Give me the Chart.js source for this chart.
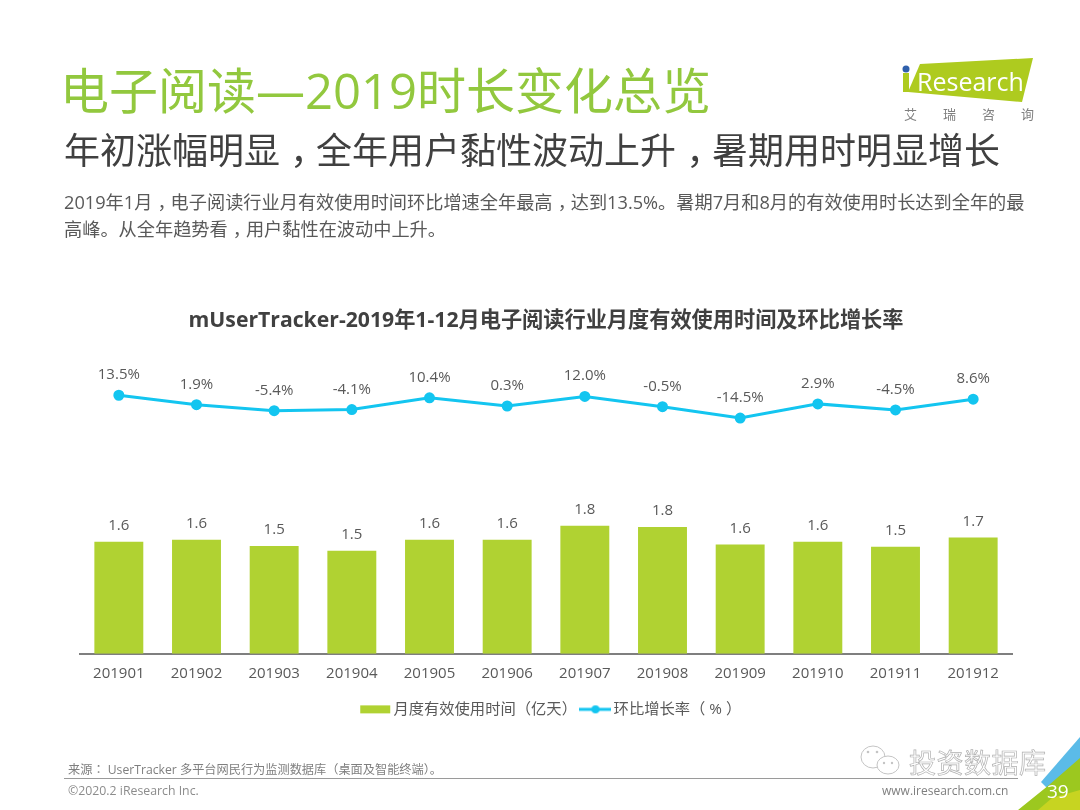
<!DOCTYPE html>
<html>
<head>
<meta charset="utf-8">
<script src="https://cdn.jsdelivr.net/npm/chart.js@4"></script>
<style>
    html, body { margin: 0; padding: 0; background: #fff; }
    body { width: 1080px; height: 810px; position: relative; overflow: hidden; font-family: "Open Sans", "Noto Sans CJK SC", sans-serif; }
    #chart { position: absolute; left: 0; top: 0; }
    .txt { position: absolute; white-space: nowrap; }
    .comma { position: relative; left: 0.28em; }
    .tc { font-family: "Noto Sans CJK TC", sans-serif; }
    #head { left: 60px; top: 55px; font-size: 49px; line-height: 70px; color: #92c83e; }
    #sub { left: 64px; top: 125px; font-size: 36px; line-height: 52px; color: #404040; }
    #desc { left: 64px; top: 189px; font-size: 18.2px; line-height: 27px; color: #595959; }
    #source { left: 68px; top: 761px; font-size: 12.2px; line-height: 16px; color: #7f7f7f; }
    #copy { left: 68px; top: 783px; font-size: 12.3px; line-height: 16px; color: #8c8c8c; }
    #site { left: 882px; top: 783px; font-size: 12px; line-height: 16px; color: #7f7f7f; }
    #page { left: 1047px; top: 779px; font-size: 19px; line-height: 24px; color: #fff; }
    #wm { left: 909px; top: 745px; font-size: 27px; line-height: 36px; color: #fff; -webkit-text-stroke: 0.7px #b0b0b0; letter-spacing: 0.5px; }
    #rule { position: absolute; left: 64px; top: 778px; width: 954px; height: 1px; background: #9a9a9a; }
    svg { position: absolute; left: 0; top: 0; }
</style>
</head>
<body>
<canvas id="chart" width="1080" height="810"></canvas>

<svg width="1080" height="810">
    <polygon points="1080,737 1080,760 1049,790 1041,782" fill="#5bbbe8"/>
    <polygon points="1080,758 1080,810 1018,810 1049,785" fill="#9cc81f"/>
    <polygon points="1080,790 1080,810 1038,810 1052,798" fill="#c7d421"/>
    <polygon points="920,64 1033,58 1022,102 908,92" fill="#aecb1f"/>
    <rect x="903" y="73" width="6" height="19" fill="#aecb1f"/>
    <circle cx="906" cy="69" r="3.5" fill="#2f60ac"/>
    <text x="917" y="91" font-size="25" fill="#fff" font-family="Open Sans">Research</text>
    <g fill="#fff" stroke="#c4c4c4" stroke-width="1">
        <ellipse cx="873" cy="757" rx="12" ry="11"/>
        <ellipse cx="888" cy="765" rx="11" ry="9"/>
    </g>
    <g fill="#c4c4c4">
        <circle cx="868" cy="752" r="1.3"/>
        <circle cx="877" cy="752" r="1.3"/>
        <circle cx="884" cy="763" r="1.2"/>
        <circle cx="892" cy="763" r="1.2"/>
    </g>
</svg>

<div id="head" class="txt">电子阅读—2019时长变化总览</div>
<div id="sub" class="txt">年初涨幅明显<span class="comma">，</span>全年用户黏性波动上升<span class="comma">，</span>暑期用时明显增长</div>
<div id="desc" class="txt">2019年1月<span class="comma">，</span>电子阅读行业月有效使用时间环比增速全年最高<span class="comma">，</span>达到13.5%。暑期7月和8月的有效使用时长达到全年的最<br>高峰。从全年趋势看<span class="comma">，</span>用户黏性在波动中上升。</div>
<div class="txt" style="left:904px;top:105px;font-size:13px;line-height:18px;color:#7f7f7f;letter-spacing:26px;">艾瑞咨询</div>
<div id="source" class="txt">来源<span class="tc">：</span> UserTracker 多平台网民行为监测数据库<span class="tc">（</span>桌面及智能终端<span class="tc">）</span>。</div>
<div id="rule"></div>
<div id="copy" class="txt">©2020.2 iResearch Inc.</div>
<div id="site" class="txt">www.iresearch.com.cn</div>
<div id="wm" class="txt">投资数据库</div>
<div id="page" class="txt">39</div>

<script>
const months = ['201901', '201902', '201903', '201904', '201905', '201906', '201907', '201908', '201909', '201910', '201911', '201912'];
const usageTime = [1.60, 1.63, 1.54, 1.47, 1.63, 1.63, 1.83, 1.81, 1.56, 1.60, 1.53, 1.66];
const growthRate = [13.5, 1.9, -5.4, -4.1, 10.4, 0.3, 12.0, -0.5, -14.5, 2.9, -4.5, 8.6];

const green = '#b0d232';
const blue = '#13c5f0';
const fontName = '"Open Sans", "Noto Sans CJK SC", sans-serif';
const legendFont = '"Open Sans", "Noto Sans CJK TC", sans-serif';

function legendIcon(drawIcon) {
    const icon = document.createElement('canvas');
    icon.width = 32;
    icon.height = 10;
    drawIcon(icon.getContext('2d'));
    return icon;
}

const barIcon = legendIcon(function (c) {
    c.fillStyle = green;
    c.fillRect(1, 1, 30, 8);
});

const lineIcon = legendIcon(function (c) {
    c.strokeStyle = blue;
    c.lineWidth = 3;
    c.beginPath();
    c.moveTo(0, 5);
    c.lineTo(32, 5);
    c.stroke();
    c.fillStyle = blue;
    c.beginPath();
    c.arc(16, 5, 4, 0, Math.PI * 2);
    c.fill();
});

// value labels above the bars and points
const valueLabels = {
    id: 'valueLabels',
    afterDatasetsDraw(chart) {
        const c = chart.ctx;
        c.save();
        c.font = '15px ' + fontName;
        c.fillStyle = '#595959';
        c.textAlign = 'center';
        c.textBaseline = 'alphabetic';
        chart.getDatasetMeta(0).data.forEach(function (bar, i) {
            c.fillText(usageTime[i].toFixed(1), bar.x, bar.y - 12);
        });
        chart.getDatasetMeta(1).data.forEach(function (point, i) {
            c.fillText(growthRate[i].toFixed(1) + '%', point.x, point.y - 16);
        });
        c.restore();
    }
};

// the fullwidth brackets leave blank room, so nudge the centred legend to the right
const legendShift = {
    id: 'legendShift',
    afterLayout(chart) {
        chart.legend.left += 7;
        chart.legend.right += 7;
    }
};

new Chart(document.getElementById('chart'), {
    data: {
        labels: months,
        datasets: [
            {
                type: 'bar',
                label: '月度有效使用时间（亿天）',
                data: usageTime,
                yAxisID: 'yBar',
                backgroundColor: green,
                categoryPercentage: 0.63,
                barPercentage: 1,
                pointStyle: barIcon,
                order: 2
            },
            {
                type: 'line',
                label: '环比增长率（ % ）',
                data: growthRate,
                yAxisID: 'yLine',
                borderColor: blue,
                backgroundColor: blue,
                borderWidth: 3,
                pointRadius: 4,
                pointHoverRadius: 4,
                tension: 0,
                pointStyle: 'circle',
                order: 1
            }
        ]
    },
    options: {
        responsive: false,
        animation: false,
        layout: {
            padding: { left: 80, right: 68, top: 0, bottom: 83 }
        },
        plugins: {
            title: {
                display: true,
                text: 'mUserTracker-2019年1-12月电子阅读行业月度有效使用时间及环比增长率',
                color: '#404040',
                font: { family: fontName, size: 21.2, weight: 'bold' },
                padding: { top: 308, bottom: 18 }
            },
            legend: {
                position: 'bottom',
                align: 'center',
                labels: {
                    usePointStyle: true,
                    pointStyleWidth: 21,
                    color: '#595959',
                    font: { family: legendFont, size: 15.3 },
                    padding: 8,
                    generateLabels(chart) {
                        return [
                            { text: chart.data.datasets[0].label, pointStyle: barIcon, datasetIndex: 0, fontColor: '#595959', lineWidth: 0 },
                            { text: chart.data.datasets[1].label, pointStyle: lineIcon, datasetIndex: 1, fontColor: '#595959', lineWidth: 0 }
                        ];
                    }
                }
            },
            tooltip: { enabled: false }
        },
        scales: {
            x: {
                grid: { display: false },
                border: { display: true, color: '#7f7f7f', width: 2 },
                ticks: { color: '#595959', font: { family: fontName, size: 15 }, padding: 3, maxRotation: 0 },
                afterFit(scale) {
                    scale.height += 8;
                }
            },
            yBar: {
                display: false,
                min: 0,
                max: 4.32
            },
            yLine: {
                display: false,
                min: -303.4,
                max: 67.2
            }
        }
    },
    plugins: [valueLabels, legendShift]
});
</script>
</body>
</html>
